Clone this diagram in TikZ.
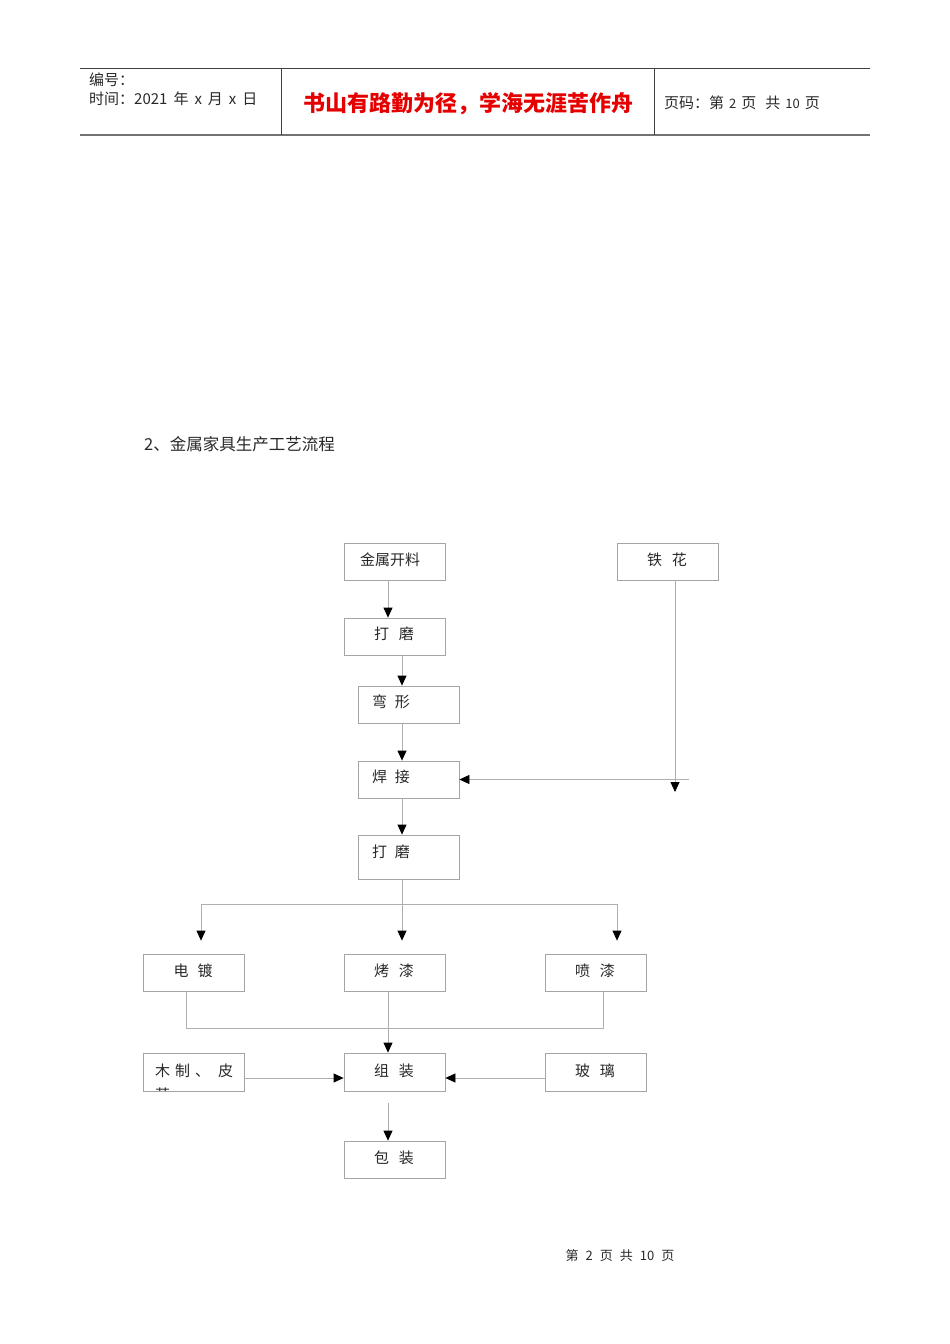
\documentclass[tikz,border=0pt]{standalone}
\usepackage{fontspec}
\setmainfont{Noto Sans CJK SC}
\usetikzlibrary{arrows.meta,calc}
\definecolor{linegray}{RGB}{175,175,175}
\definecolor{boxgray}{RGB}{165,165,165}
\definecolor{txtgray}{RGB}{40,40,40}
\begin{document}
\begin{tikzpicture}[x=1pt,y=-1pt,
  box/.style={draw=boxgray,line width=0.8pt,minimum width=101pt,minimum height=37pt,inner sep=0pt},
  txt/.style={inner sep=0pt,text=txtgray,font=\fontsize{15pt}{18pt}\selectfont},
  conn/.style={draw=linegray,line width=0.8pt},
  arr/.style={conn,-{Triangle[width=9pt,length=10pt,color=black,fill=black]}},
  hdr/.style={draw=black!75,line width=0.7pt}]
\useasboundingbox (0,0) rectangle (950,1344);
% header
\draw[hdr] (80,68) -- (870,68);
\draw[draw=black!55,line width=1.6pt] (80,135) -- (870,135);
\draw[hdr] (281,68) -- (281,135);
\draw[hdr] (654,68) -- (654,135);
\node[txt,anchor=west] (h1) at (89,80) {编号：};
\node[txt,anchor=west] (h2) at (89,99) {时间：2021\hspace{6pt}年\hspace{6pt}x\hspace{6pt}月\hspace{6pt}x\hspace{6pt}日};
\node[inner sep=0pt,text=red!90!black,font=\fontsize{22pt}{25pt}\selectfont\bfseries] (h3) at (468,104) {书山有路勤为径，学海无涯苦作舟};
\node[txt,anchor=west] (h4) at (664,103) {页码：第\hspace{5pt}{\fontsize{13pt}{15pt}\selectfont 2}\hspace{5pt}页\hspace{9pt}共\hspace{5pt}{\fontsize{13pt}{15pt}\selectfont 10}\hspace{5pt}页};
% title
\node[txt,anchor=west,font=\fontsize{16.5pt}{19pt}\selectfont] (title) at (144,444) {2、金属家具生产工艺流程};
% boxes
\node[box] (kl) at (394.5,561.5) {};
\node[box] (th) at (667.5,561.5) {};
\node[box] (dm1) at (394.5,636.5) {};
\node[box] (wx) at (408.5,704.5) {};
\node[box] (hj) at (408.5,779.5) {};
\node[box,minimum height=44pt] (dm2) at (408.5,857) {};
\node[box] (dd) at (193.5,972.5) {};
\node[box] (kq) at (394.5,972.5) {};
\node[box] (pq) at (595.5,972.5) {};
\node[box,minimum height=38pt] (mz) at (193.5,1072) {};
\node[box,minimum height=38pt] (zz) at (394.5,1072) {};
\node[box,minimum height=38pt] (bl) at (595.5,1072) {};
\node[box] (bz) at (394.5,1159.5) {};
% texts
\node[txt] (tkl) at (390,560) {金属开料};
\node[txt] (tth) at (667,560) {铁\hspace{10pt}花};
\node[txt] (tdm1) at (394,634) {打\hspace{10pt}磨};
\node[txt] (twx) at (391,702) {弯\hspace{8pt}形};
\node[txt] (thj) at (391,777) {焊\hspace{8pt}接};
\node[txt] (tdm2) at (391,852) {打\hspace{8pt}磨};
\node[txt] (tdd) at (193,971) {电\hspace{9pt}镀};
\node[txt] (tkq) at (394,971) {烤\hspace{10pt}漆};
\node[txt] (tpq) at (595,971) {喷\hspace{10pt}漆};
\begin{scope}
\clip (143.5,1053.5) rectangle (244,1090.5);
\node[txt,anchor=north west,align=left,font=\fontsize{15pt}{24pt}\selectfont] (tmz) at (155,1064) {木\hspace{5pt}制\hspace{5pt}、\hspace{8pt}皮\\革};
\end{scope}
\node[txt] (tzz) at (394,1071) {组\hspace{10pt}装};
\node[txt] (tbl) at (595,1071) {玻\hspace{10pt}璃};
\node[txt] (tbz) at (394,1158) {包\hspace{10pt}装};
% coordinates
\coordinate (xa) at (388,0);
\coordinate (xb) at (402,0);
\coordinate (thend) at (675,792);
\coordinate (hs) at (689,779.5);
\coordinate (sl) at (201,904);
\coordinate (sm) at (402,904);
\coordinate (sr) at (617,904);
\coordinate (ml) at (186,1028);
\coordinate (mr) at (603,1028);
\coordinate (ym) at (0,1078);
% connectors
\draw[arr] (kl.south -| xa) -- (dm1.north -| xa);
\draw[arr] (dm1.south -| xb) -- (wx.north -| xb);
\draw[arr] (wx.south -| xb) -- (hj.north -| xb);
\draw[arr] (th.south -| thend) -- (thend);
\draw[arr] (hs) -- (hj.east |- hs);
\draw[arr] (hj.south -| xb) -- (dm2.north -| xb);
\draw[conn] (dm2.south -| sm) -- (sm);
\draw[conn] (sl) -- (sr);
\draw[arr] (sl) -- ($(dd.north -| sl)+(0,-13)$);
\draw[arr] (sm) -- ($(kq.north -| sm)+(0,-13)$);
\draw[arr] (sr) -- ($(pq.north -| sr)+(0,-13)$);
\draw[conn] (dd.south -| ml) -- (ml) -- (mr) -- (pq.south -| mr);
\draw[arr] (kq.south -| xa) -- (zz.north -| xa);
\draw[arr] (mz.east |- ym) -- (zz.west |- ym);
\draw[arr] (bl.west |- ym) -- (zz.east |- ym);
\draw[arr] ($(zz.south -| xa)+(0,12)$) -- (bz.north -| xa);
% footer
\node[txt,font=\fontsize{13pt}{15pt}\selectfont] (foot) at (620,1256) {第\hspace{7pt}2\hspace{7pt}页\hspace{7pt}共\hspace{7pt}10\hspace{7pt}页};
\end{tikzpicture}
\end{document}
